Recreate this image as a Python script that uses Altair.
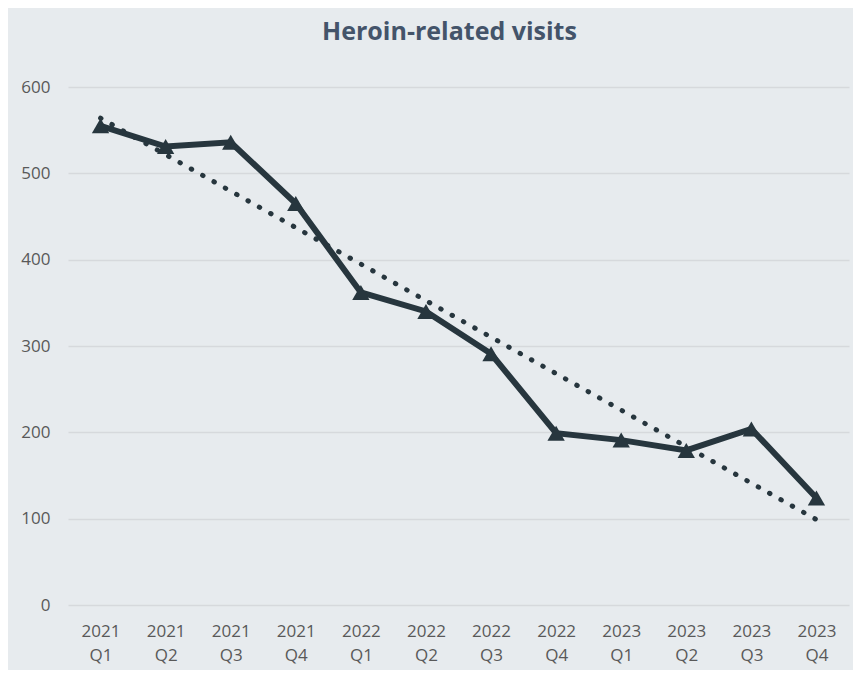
import altair as alt
import pandas as pd

years = ["2021", "2021", "2021", "2021", "2022", "2022", "2022", "2022", "2023", "2023", "2023", "2023"]
quarters = ["Q1", "Q2", "Q3", "Q4", "Q1", "Q2", "Q3", "Q4", "Q1", "Q2", "Q3", "Q4"]
visits = [555, 531, 536, 465, 362, 340, 291, 199, 191, 179, 204, 124]
y_ticks = [0, 100, 200, 300, 400, 500, 600]

df = pd.DataFrame({"idx": list(range(len(visits))), "year": years, "quarter": quarters, "visits": visits})

labels_js = "[" + ",".join(f"['{y}','{q}']" for y, q in zip(years, quarters)) + "]"

LINE = "#27363E"
LABEL = "#595959"
FONT = "Open Sans"

x = alt.X(
    "idx:Q",
    scale=alt.Scale(domain=[-0.5, len(visits) - 0.5], nice=False, zero=False),
    axis=alt.Axis(
        values=list(range(len(visits))),
        labelExpr=f"{labels_js}[datum.value]",
        title=None, grid=False, domain=False, ticks=False,
        labelPadding=18, labelFontSize=17, labelColor=LABEL, labelFont=FONT,
        labelLineHeight=24, labelOverlap=False, labelFlush=False,
    ),
)
y = alt.Y(
    "visits:Q",
    scale=alt.Scale(domain=[0, 600], nice=False),
    axis=alt.Axis(
        values=y_ticks, title=None, domain=False, ticks=False,
        gridColor="#D6D9DC", gridWidth=1.3,
        labelPadding=18, labelFontSize=17, labelColor=LABEL, labelFont=FONT,
    ),
)

base = alt.Chart(df)

line = base.mark_line(color=LINE, strokeWidth=6, strokeJoin="miter").encode(x=x, y=y)
points = base.mark_point(shape="triangle-up", filled=True, color=LINE, size=300, opacity=1).encode(x=x, y=y)
trend = base.transform_regression("idx", "visits").mark_line(
    color=LINE, strokeWidth=5, strokeDash=[0.5, 12.5], strokeCap="round"
).encode(x=x, y=y)

chart = alt.layer(line, points, trend).properties(
    width=781,
    height=518,
    autosize=alt.AutoSizeParams(type="none"),
    padding={"left": 60, "top": 79, "right": 4, "bottom": 65},
    background="#E7EBEE",
    title=alt.Title(
        "Heroin-related visits", fontSize=25, font=FONT, fontWeight="bold",
        color="#44546A", anchor="middle", frame="group", baseline="alphabetic",
        offset=13, dx=-9,
    ),
).configure_view(stroke=None)

chart.save("out.html", embed_options={"renderer": "svg", "actions": False})
